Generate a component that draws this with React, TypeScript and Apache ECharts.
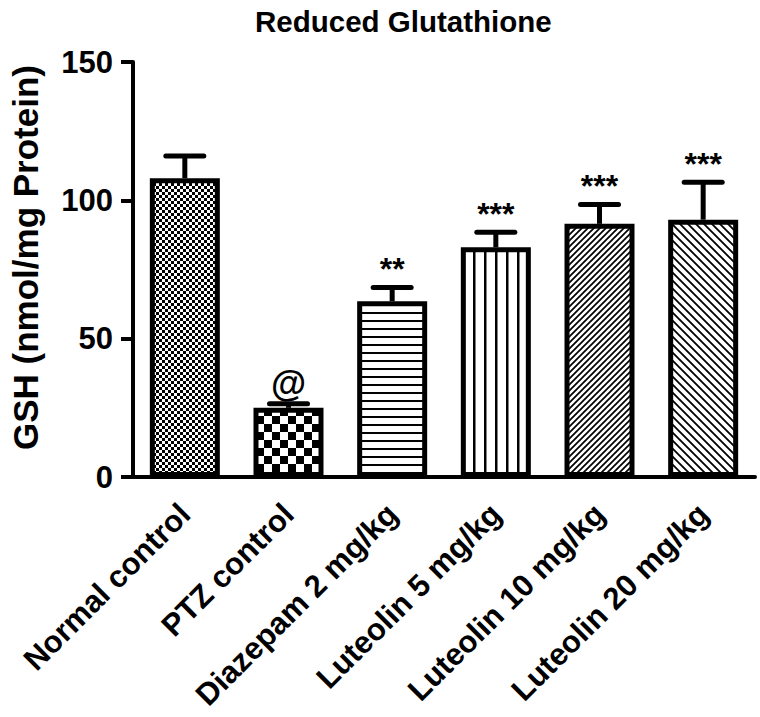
import React, { useEffect, useRef } from "react";
import * as echarts from "echarts";

const categories = [
  "Normal control",
  "PTZ control",
  "Diazepam 2 mg/kg",
  "Luteolin 5 mg/kg",
  "Luteolin 10 mg/kg",
  "Luteolin 20 mg/kg",
];
const meanValues = [108, 25, 63.5, 83, 91.5, 93];
const errorValues = [8, 1.5, 5, 5.5, 7, 13.5];
const significance = ["", "@", "**", "***", "***", "***"];
const patternKinds = ["fineCheck", "coarseCheck", "horizontal", "vertical", "diagUp", "diagDown"];
const yMin = 0;
const yMax = 150;
const yInterval = 50;

const FONT = "'Liberation Sans', Arial, Helvetica, sans-serif";

function makePattern(kind: string) {
  const c = document.createElement("canvas");
  let s = 8;
  if (kind === "fineCheck") s = 6;
  else if (kind === "coarseCheck") s = 16;
  else if (kind === "horizontal") s = 8;
  else if (kind === "vertical") s = 11;
  else if (kind === "diagUp") s = 6;
  else if (kind === "diagDown") s = 8;
  c.width = s;
  c.height = s;
  const ctx = c.getContext("2d")!;
  ctx.fillStyle = "#fff";
  ctx.fillRect(0, 0, s, s);
  ctx.fillStyle = "#000";
  ctx.strokeStyle = "#000";
  if (kind === "fineCheck" || kind === "coarseCheck") {
    const h = s / 2;
    ctx.fillRect(0, 0, h, h);
    ctx.fillRect(h, h, h, h);
  } else if (kind === "horizontal") {
    ctx.fillRect(0, 0, s, 2);
  } else if (kind === "vertical") {
    ctx.fillRect(0, 0, 2.5, s);
  } else if (kind === "diagUp") {
    ctx.lineWidth = 1.7;
    ctx.beginPath();
    ctx.moveTo(-s, 2 * s);
    ctx.lineTo(2 * s, -s);
    ctx.moveTo(-s, s);
    ctx.lineTo(s, -s);
    ctx.moveTo(0, 2 * s);
    ctx.lineTo(2 * s, 0);
    ctx.stroke();
  } else if (kind === "diagDown") {
    ctx.lineWidth = 1.8;
    ctx.beginPath();
    ctx.moveTo(-s, -s);
    ctx.lineTo(2 * s, 2 * s);
    ctx.moveTo(-s, 0);
    ctx.lineTo(s, 2 * s);
    ctx.moveTo(0, -s);
    ctx.lineTo(2 * s, s);
    ctx.stroke();
  }
  return { image: c.toDataURL(), repeat: "repeat", imageWidth: s, imageHeight: s } as any;
}

export default function App() {
  const ref = useRef<HTMLDivElement>(null);
  useEffect(() => {
    document.body.style.margin = "0";
    const chart = echarts.init(ref.current!, null, { renderer: "svg" });
    const barData = meanValues.map((v, i) => ({
      value: v,
      itemStyle: {
        color: makePattern(patternKinds[i]),
        borderColor: "#000",
        borderWidth: 5,
      },
    }));
    const errData = meanValues.map((v, i) => [i, v, v + errorValues[i], significance[i]]);
    chart.setOption({
      animation: false,
      backgroundColor: "#fff",
      title: {
        text: "Reduced Glutathione",
        left: 250,
        top: 1,
        textStyle: { fontFamily: FONT, fontWeight: "bold", fontSize: 29.5, color: "#000" },
      },
      grid: { left: 132, right: 5, top: 62, bottom: 240 },
      xAxis: {
        type: "category",
        data: categories,
        axisLine: { lineStyle: { color: "#000", width: 4 } },
        axisTick: { alignWithLabel: true, length: 12, lineStyle: { color: "#000", width: 4 } },
        axisLabel: {
          rotate: 45,
          interval: 0,
          margin: 32,
          fontFamily: FONT,
          fontWeight: "bold",
          fontSize: 31,
          color: "#000",
        },
      },
      yAxis: {
        type: "value",
        min: yMin,
        max: yMax,
        interval: yInterval,
        name: "GSH (nmol/mg Protein)",
        nameLocation: "middle",
        nameGap: 90,
        nameTextStyle: {
          fontFamily: FONT,
          fontWeight: "bold",
          fontSize: 35,
          color: "#000",
          padding: [0, 0, 0, 24],
        },
        axisLine: { show: true, lineStyle: { color: "#000", width: 4 } },
        axisTick: { show: true, length: 12, lineStyle: { color: "#000", width: 4 } },
        splitLine: { show: false },
        axisLabel: { margin: 20, fontFamily: FONT, fontWeight: "bold", fontSize: 31, color: "#000" },
      },
      series: [
        {
          type: "bar",
          data: barData,
          barWidth: 70,
          z: 2,
        },
        {
          type: "custom",
          z: 3,
          data: errData,
          renderItem: (params: any, api: any) => {
            const base = api.coord([api.value(0), api.value(1)]);
            const top = api.coord([api.value(0), api.value(2)]);
            const label = significance[params.dataIndex];
            const children: any[] = [
              {
                type: "line",
                shape: { x1: base[0], y1: base[1], x2: top[0], y2: top[1] },
                style: { stroke: "#000", lineWidth: 5 },
              },
              {
                type: "line",
                shape: { x1: top[0] - 19, y1: top[1], x2: top[0] + 19, y2: top[1] },
                style: { stroke: "#000", lineWidth: 5, lineCap: "round" },
              },
            ];
            if (label) {
              children.push({
                type: "text",
                x: top[0],
                y: top[1] - 2,
                style: {
                  text: label,
                  align: "center",
                  verticalAlign: "bottom",
                  fontFamily: FONT,
                  fontWeight: "bold",
                  fontSize: label === "@" ? 36 : 32,
                  fill: "#000",
                },
              });
            }
            return { type: "group", children };
          },
        },
      ],
    });
    return () => chart.dispose();
  }, []);
  return <div ref={ref} style={{ width: 760, height: 717 }} />;
}
